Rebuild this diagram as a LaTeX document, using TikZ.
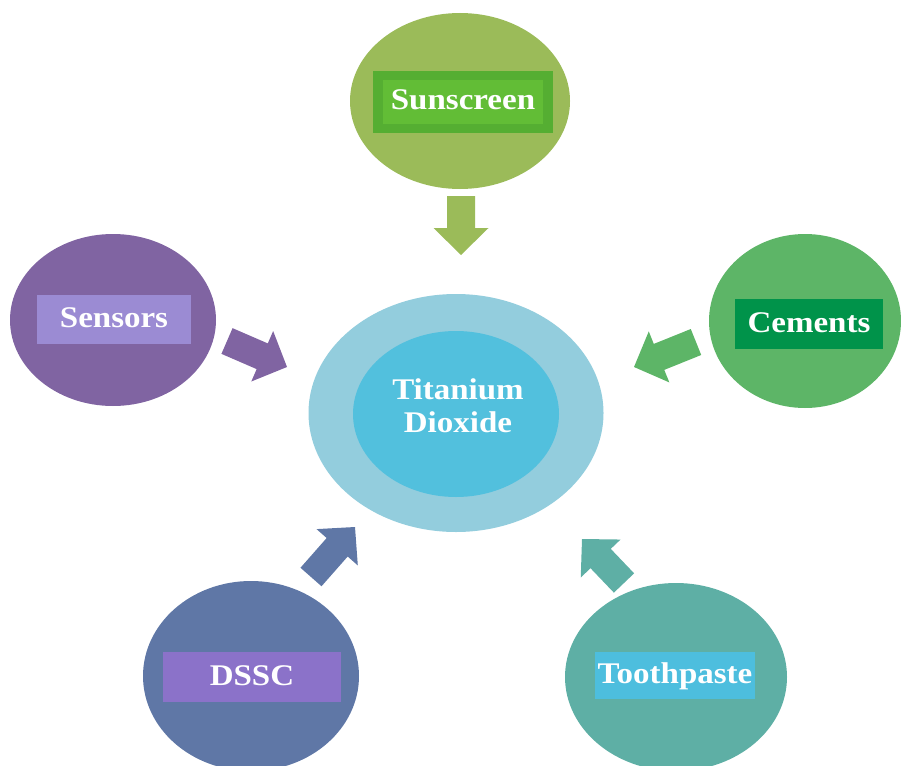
\documentclass[tikz,border=0pt]{standalone}
\usepackage{fontspec}
\newfontfamily\lblfont[FakeStretch=1.1]{Liberation Serif}
\usetikzlibrary{calc}
\usetikzlibrary{shapes.geometric}

\definecolor{tioout}{HTML}{93CDDD}
\definecolor{tioin}{HTML}{52C0DD}
\definecolor{sunc}{HTML}{9BBB59}
\definecolor{sunout}{HTML}{55AE32}
\definecolor{sunin}{HTML}{62BD36}
\definecolor{senc}{HTML}{8064A2}
\definecolor{senbox}{HTML}{9B8BD3}
\definecolor{cemc}{HTML}{5DB567}
\definecolor{cembox}{HTML}{00934A}
\definecolor{dsscc}{HTML}{5F77A6}
\definecolor{dsscbox}{HTML}{8B72C9}
\definecolor{toothc}{HTML}{5EAFA5}
\definecolor{toothbox}{HTML}{4DBEDE}

\def\arrshaft{14pt}
\def\arrbarb{27.5pt}
\def\arrhead{27pt}
\newcommand\fatarrow[3]{%
 \path ($(#2)!\arrhead!(#1)$) coordinate (#1b);
 \fill[#3] ($(#1)!\arrshaft!90:(#2)$) -- ($(#1b)!\arrshaft!90:(#2)$)
  -- ($(#1b)!\arrbarb!90:(#2)$) -- (#2)
  -- ($(#1b)!\arrbarb!-90:(#2)$) -- ($(#1b)!\arrshaft!-90:(#2)$)
  -- ($(#1)!\arrshaft!-90:(#2)$) -- cycle;}

\tikzset{
 sat/.style={ellipse, inner sep=0pt, draw=none},
 lbl/.style={text=white, inner sep=0pt, text height=20pt, text depth=4pt,
  font=\lblfont\bfseries\fontsize{30}{33}\selectfont}
}

\begin{document}
\begin{tikzpicture}[x=1pt, y=-1pt]
\useasboundingbox (0,0) rectangle (901,765);
\node[sat, fill=tioout, minimum width=295pt, minimum height=238pt] (tio) at (456,413) {};
\node[sat, fill=tioin, minimum width=206pt, minimum height=166pt] (core) at (456,414) {};
\node[lbl, align=center, text height=, text depth=] (tiol) at (458,406) {Titanium\\Dioxide};
\foreach \n/\x/\y/\w/\h/\c in {sun/460/101/220/176/sunc, sen/113/320/206/172/senc,
  cem/805/321/192/174/cemc, dssc/251/676/216/190/dsscc, tooth/676/677/222/188/toothc}
 \node[sat, fill=\c, minimum width=\w pt, minimum height=\h pt] (\n) at (\x,\y) {};
\node[lbl, fill=sunin, draw=sunout, line width=9.5pt, minimum width=170pt, minimum height=53pt] (sunl) at (463,102) {Sunscreen};
\node[lbl, fill=senbox, minimum width=154pt, minimum height=49pt] (senl) at (114,319.5) {Sensors};
\node[lbl, fill=cembox, minimum width=148pt, minimum height=50pt] (ceml) at (809,324) {Cements};
\node[lbl, fill=dsscbox, minimum width=178pt, minimum height=50pt] (dsscl) at (252,677) {DSSC};
\node[lbl, fill=toothbox, minimum width=160pt, minimum height=47pt] (toothl) at (675,675.5) {Toothpaste};
\coordinate (suna) at (461,196);  \coordinate (sunt) at (461,255);
\coordinate (sena) at (227,341);  \coordinate (sent) at (287,367);
\coordinate (cema) at (696,342);  \coordinate (cemt) at (634,367);
\coordinate (dssca) at (311,577); \coordinate (dssct) at (355,527);
\coordinate (tootha) at (624,583); \coordinate (tootht) at (582,539);
\fatarrow{suna}{sunt}{sunc}
\fatarrow{sena}{sent}{senc}
\fatarrow{cema}{cemt}{cemc}
\fatarrow{dssca}{dssct}{dsscc}
\fatarrow{tootha}{tootht}{toothc}
\end{tikzpicture}
\end{document}
